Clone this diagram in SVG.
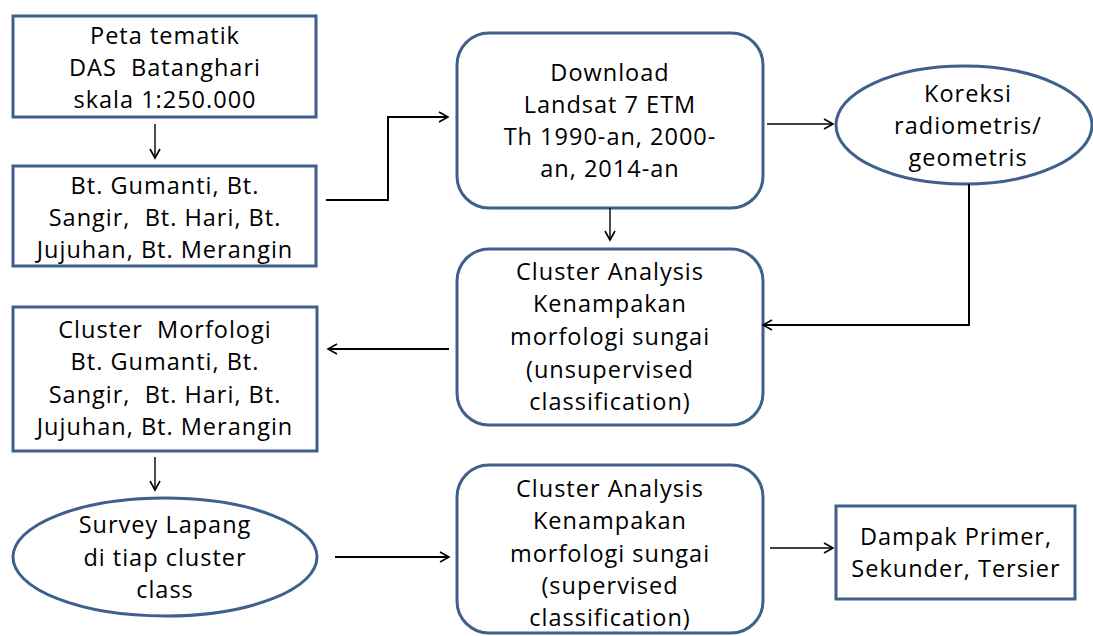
<svg xmlns="http://www.w3.org/2000/svg" width="1093" height="636" viewBox="0 0 1093 636" xml:space="preserve">
<defs>
<style>
.n{fill:#fff;stroke:#3F5F8C;stroke-width:3}
.t{font-family:"Open Sans","Liberation Sans",sans-serif;font-size:23.5px;letter-spacing:1px;fill:#000;text-anchor:middle;white-space:pre}
.c{fill:none;stroke:#000;stroke-width:1.4}
.c2{fill:none;stroke:#000;stroke-width:2}
</style>
<marker id="a" markerWidth="12" markerHeight="12" refX="10" refY="6" orient="auto" markerUnits="userSpaceOnUse">
<path d="M1,1 L10,6 L1,11" fill="none" stroke="#000" stroke-width="1.6"/>
</marker>
</defs>
<rect width="1093" height="636" fill="#fff"/>
<g id="peta"><rect class="n" x="13" y="16" width="303" height="101"/>
<text class="t" x="165" y="44">Peta tematik</text>
<text class="t" x="165" y="76">DAS  Batanghari</text>
<text class="t" x="165" y="108">skala 1:250.000</text></g>
<g id="sungai"><rect class="n" x="13" y="166" width="303" height="100"/>
<text class="t" x="165" y="194">Bt. Gumanti, Bt.</text>
<text class="t" x="165" y="226">Sangir,  Bt. Hari, Bt.</text>
<text class="t" x="165" y="258">Jujuhan, Bt. Merangin</text></g>
<g id="download"><rect class="n" x="457" y="33" width="306" height="175" rx="32"/>
<text class="t" x="610" y="81">Download</text>
<text class="t" x="610" y="113">Landsat 7 ETM</text>
<text class="t" x="610" y="145">Th 1990-an, 2000-</text>
<text class="t" x="610" y="177">an, 2014-an</text></g>
<g id="koreksi"><ellipse class="n" cx="964" cy="125" rx="128" ry="59"/>
<text class="t" x="968" y="102">Koreksi</text>
<text class="t" x="968" y="134">radiometris/</text>
<text class="t" x="968" y="166">geometris</text></g>
<g id="unsup"><rect class="n" x="457" y="249" width="306" height="176" rx="32"/>
<text class="t" x="610" y="280">Cluster Analysis</text>
<text class="t" x="610" y="312">Kenampakan</text>
<text class="t" x="610" y="345">morfologi sungai</text>
<text class="t" x="610" y="378">(unsupervised</text>
<text class="t" x="610" y="410">classification)</text></g>
<g id="morfologi"><rect class="n" x="13" y="307" width="304" height="144"/>
<text class="t" x="165" y="338">Cluster  Morfologi</text>
<text class="t" x="165" y="370">Bt. Gumanti, Bt.</text>
<text class="t" x="165" y="403">Sangir,  Bt. Hari, Bt.</text>
<text class="t" x="165" y="435">Jujuhan, Bt. Merangin</text></g>
<g id="survey"><ellipse class="n" cx="165" cy="557" rx="152" ry="59"/>
<text class="t" x="165" y="533">Survey Lapang</text>
<text class="t" x="165" y="566">di tiap cluster</text>
<text class="t" x="165" y="598">class</text></g>
<g id="sup"><rect class="n" x="457" y="465" width="306" height="168" rx="32"/>
<text class="t" x="610" y="497">Cluster Analysis</text>
<text class="t" x="610" y="529">Kenampakan</text>
<text class="t" x="610" y="562">morfologi sungai</text>
<text class="t" x="610" y="594">(supervised</text>
<text class="t" x="610" y="626">classification)</text></g>
<g id="dampak"><rect class="n" x="836" y="506" width="239" height="93"/>
<text class="t" x="956" y="545">Dampak Primer,</text>
<text class="t" x="956" y="577">Sekunder, Tersier</text></g>
<g id="connectors">
<path class="c" d="M155,124 V158" marker-end="url(#a)"/>
<path class="c2" d="M326,200 H388 V117 H448" marker-end="url(#a)"/>
<path class="c" d="M767,124 H833" marker-end="url(#a)"/>
<path class="c" d="M610,208 V240" marker-end="url(#a)"/>
<path class="c2" d="M969,184 V325 H763" marker-end="url(#a)"/>
<path class="c2" d="M449,349 H328" marker-end="url(#a)"/>
<path class="c" d="M155,457 V490" marker-end="url(#a)"/>
<path class="c2" d="M335,557 H449" marker-end="url(#a)"/>
<path class="c" d="M770,548 H833" marker-end="url(#a)"/>
</g>
</svg>
